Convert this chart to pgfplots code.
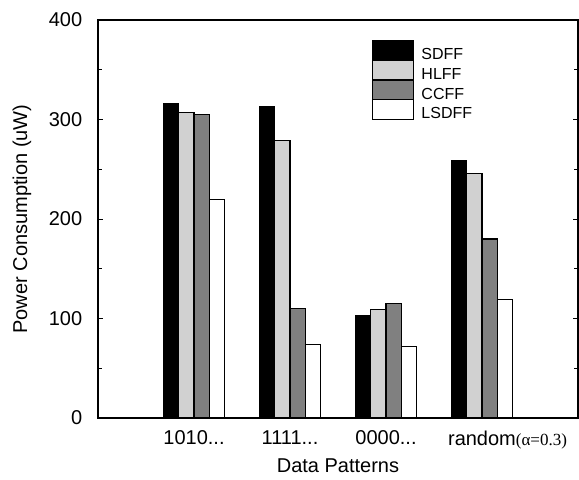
\documentclass[border=0pt]{standalone}
\usepackage{fontspec}
\setmainfont{Liberation Sans}
\newfontfamily\timesf{Liberation Serif}
\usepackage{pgfplots}
\pgfplotsset{compat=1.18}
\newcommand\pa{1010...}
\newcommand\pb{1111...}
\newcommand\pc{0000...}
\newcommand\pd{random\rlap{\fontsize{17}{20}\timesf(α=0.3)}}
\newcommand\legfont{\fontsize{16}{18}\selectfont}

\begin{document}
\fontsize{20}{24}\selectfont
\begin{tikzpicture}
\begin{axis}[
    name=ax,
    scale only axis, width=480pt, height=398pt,
    xmin=0, xmax=5, ymin=0, ymax=400,
    ybar=0pt, bar width=0.16,
    xtick={1,2,3,4},
    xticklabels={\pa,\pb,\pc,\pd},
    x tick style={draw=none},
    xticklabel style={yshift=-6pt},
    ytick={0,100,...,400},
    minor y tick num=1,
    ytick pos=both,
    tick align=inside,
    major tick length=5pt, minor tick length=4pt,
    yticklabel style={xshift=-9pt},
    /pgf/number format/assume math mode=true,
    axis line style={line width=1.6pt},
    tick style={line width=0.8pt, black},
    xlabel={Data Patterns},
    xlabel style={yshift=4pt},
    ylabel={Power Consumption (uW)},
    ylabel style={yshift=4pt},
    legend style={at={(0.571,0.95)}, anchor=north west, draw=none, fill=none,
        row sep=-3pt, inner sep=0pt, nodes={inner sep=0pt}},
    legend cell align=left,
    legend image code/.code={\draw[#1] (0pt,-5pt) rectangle (41pt,15pt); \path (48pt,0pt);},
    every axis plot/.append style={draw=black, line width=1.2pt},
]
\addplot[fill=black] coordinates {(1,316) (2,313) (3,103) (4,259)};
\addlegendentry{\legfont SDFF}
\addplot[fill=black!18] coordinates {(1,307) (2,279) (3,109) (4,246)};
\addlegendentry{\legfont HLFF}
\addplot[fill=black!50] coordinates {(1,305) (2,110) (3,115) (4,180)};
\addlegendentry{\legfont CCFF}
\addplot[fill=white] coordinates {(1,220) (2,74) (3,72) (4,119)};
\addlegendentry{\legfont LSDFF}
\end{axis}
\path (ax.south west) ++(-98pt,-58pt);
\path (ax.north east) ++(1pt,20pt);
\end{tikzpicture}
\end{document}
